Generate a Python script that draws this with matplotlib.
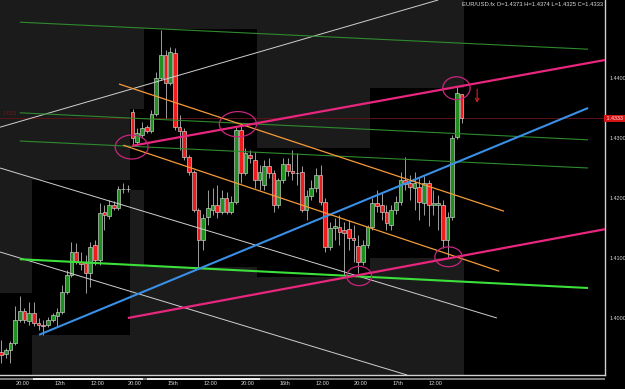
import numpy as np
import matplotlib
matplotlib.use('Agg')
import matplotlib.pyplot as plt
from matplotlib.patches import Rectangle, Ellipse

plt.rcParams['font.family'] = ['Liberation Sans', 'DejaVu Sans']

# --- DATA: EUR/USD candles (bar index = position) ---
opens = [1.3943, 1.3940, 1.3947, 1.3958, 1.3997, 1.4012, 1.3995, 1.4008, 1.3992, 1.3989,
         1.3988, 1.3997, 1.4003, 1.4010, 1.4043, 1.4072, 1.4110, 1.4093, 1.4092, 1.4075,
         1.4122, 1.4097, 1.4177, 1.4170, 1.4188, 1.4183, 1.4215, 1.4215, 1.4343, 1.4293,
         1.4305, 1.4318, 1.4312, 1.4340, 1.4400, 1.4438, 1.4392, 1.4442, 1.4318, 1.4312,
         1.4268, 1.4243, 1.4180, 1.4130, 1.4168, 1.4180, 1.4188, 1.4177, 1.4200, 1.4177,
         1.4193, 1.4313, 1.4242, 1.4272, 1.4263, 1.4230, 1.4222, 1.4253, 1.4242, 1.4188,
         1.4230, 1.4257, 1.4245, 1.4242, 1.4243, 1.4180, 1.4203, 1.4217, 1.4238, 1.4193,
         1.4118, 1.4150, 1.4152, 1.4147, 1.4148, 1.4133, 1.4120, 1.4093, 1.4122, 1.4152,
         1.4192, 1.4188, 1.4177, 1.4155, 1.4180, 1.4193, 1.4230, 1.4225, 1.4217, 1.4218,
         1.4192, 1.4225, 1.4188, 1.4188, 1.4188, 1.4130, 1.4168, 1.4302, 1.4373]
highs = [1.3963, 1.3950, 1.3962, 1.4020, 1.4037, 1.4017, 1.4027, 1.4027, 1.4000, 1.3997,
         1.4002, 1.4008, 1.4017, 1.4055, 1.4080, 1.4127, 1.4125, 1.4110, 1.4105, 1.4127,
         1.4130, 1.4192, 1.4188, 1.4197, 1.4195, 1.4220, 1.4225, 1.4222, 1.4348, 1.4317,
         1.4327, 1.4322, 1.4347, 1.4410, 1.4480, 1.4447, 1.4452, 1.4450, 1.4338, 1.4317,
         1.4272, 1.4247, 1.4183, 1.4173, 1.4213, 1.4217, 1.4222, 1.4213, 1.4210, 1.4203,
         1.4318, 1.4323, 1.4283, 1.4280, 1.4277, 1.4255, 1.4263, 1.4267, 1.4247, 1.4233,
         1.4267, 1.4267, 1.4280, 1.4275, 1.4253, 1.4213, 1.4230, 1.4250, 1.4255, 1.4200,
         1.4160, 1.4167, 1.4172, 1.4160, 1.4163, 1.4155, 1.4138, 1.4130, 1.4155, 1.4200,
         1.4213, 1.4208, 1.4188, 1.4188, 1.4203, 1.4243, 1.4268, 1.4238, 1.4243, 1.4233,
         1.4237, 1.4230, 1.4213, 1.4205, 1.4197, 1.4177, 1.4305, 1.4387, 1.4374]
lows = [1.3925, 1.3933, 1.3925, 1.3955, 1.3993, 1.3992, 1.3988, 1.3987, 1.3980, 1.3972,
        1.3985, 1.3993, 1.3985, 1.4007, 1.4040, 1.4068, 1.4090, 1.4080, 1.4042, 1.4052,
        1.4088, 1.4088, 1.4147, 1.4165, 1.4180, 1.4180, 1.4208, 1.4210, 1.4288, 1.4287,
        1.4302, 1.4308, 1.4308, 1.4337, 1.4397, 1.4333, 1.4388, 1.4313, 1.4280, 1.4263,
        1.4238, 1.4177, 1.4083, 1.4113, 1.4155, 1.4172, 1.4167, 1.4173, 1.4173, 1.4173,
        1.4190, 1.4225, 1.4238, 1.4258, 1.4217, 1.4213, 1.4213, 1.4233, 1.4177, 1.4183,
        1.4225, 1.4237, 1.4230, 1.4222, 1.4177, 1.4163, 1.4197, 1.4210, 1.4188, 1.4110,
        1.4113, 1.4130, 1.4122, 1.4072, 1.4113, 1.4093, 1.4075, 1.4088, 1.4117, 1.4147,
        1.4177, 1.4163, 1.4147, 1.4147, 1.4173, 1.4188, 1.4213, 1.4197, 1.4180, 1.4163,
        1.4172, 1.4153, 1.4172, 1.4147, 1.4117, 1.4102, 1.4163, 1.4298, 1.4325]
closes = [1.3938, 1.3947, 1.3958, 1.3997, 1.4012, 1.3997, 1.4008, 1.3992, 1.3988, 1.3987,
          1.3997, 1.4005, 1.4010, 1.4043, 1.4072, 1.4110, 1.4093, 1.4090, 1.4075, 1.4118,
          1.4097, 1.4175, 1.4172, 1.4188, 1.4183, 1.4215, 1.4215, 1.4215, 1.4300, 1.4308,
          1.4317, 1.4312, 1.4340, 1.4400, 1.4438, 1.4392, 1.4443, 1.4318, 1.4312, 1.4268,
          1.4243, 1.4180, 1.4130, 1.4167, 1.4183, 1.4188, 1.4177, 1.4200, 1.4177, 1.4193,
          1.4313, 1.4242, 1.4275, 1.4267, 1.4230, 1.4243, 1.4253, 1.4242, 1.4188, 1.4230,
          1.4257, 1.4245, 1.4242, 1.4242, 1.4180, 1.4203, 1.4217, 1.4238, 1.4193, 1.4118,
          1.4150, 1.4153, 1.4143, 1.4142, 1.4133, 1.4130, 1.4093, 1.4122, 1.4152, 1.4192,
          1.4187, 1.4177, 1.4158, 1.4180, 1.4193, 1.4230, 1.4223, 1.4218, 1.4225, 1.4193,
          1.4225, 1.4188, 1.4192, 1.4192, 1.4130, 1.4168, 1.4300, 1.4375, 1.4333]

time_ticks = [4.5, 12.5, 20.5, 28.5, 36.5, 44.5, 52.5, 60.5, 68.5, 76.5, 84.5, 92.5]
time_labels = ['20:00', '12th', '12:00', '20:00', '15th', '12:00', '20:00', '16th',
               '12:00', '20:00', '17th', '12:00']
price_ticks = [1.40, 1.41, 1.42, 1.43, 1.44]
last_price = 1.4333

# session boxes: bar start, bar end, price low, price high
box_x0 = [-0.5, 6.5, 27.5, 30.5, 54.5, 78.5, 98.5]
box_x1 = [6.5, 27.5, 30.5, 54.5, 78.5, 98.5, 130]
box_lo = [1.3900, 1.3972, 1.4213, 1.4085, 1.4068, 1.4100, 1.3900]
box_hi = [1.4042, 1.4230, 1.4348, 1.4482, 1.4283, 1.4383, 1.4600]

# trendlines: (bar0, price0, bar1, price1), colour, width
trendlines = [
    ((-0.2, 1.4318, 93.0, 1.4530), '#d0d0d0', 0.7),
    ((-0.2, 1.4250, 105.5, 1.4000), '#d0d0d0', 0.7),
    ((-0.2, 1.4110, 86.4, 1.3905), '#d0d0d0', 0.7),
    ((4.0, 1.4493, 124.9, 1.4448), '#2f8a2f', 0.8),
    ((4.0, 1.4342, 124.9, 1.4297), '#2f8a2f', 0.8),
    ((4.0, 1.4295, 124.9, 1.4250), '#2f8a2f', 0.8),
    ((4.0, 1.4098, 124.9, 1.4050), '#3be03b', 1.5),
    ((8.1, 1.3972, 124.9, 1.4350), '#3a8fe6', 1.5),
    ((25.1, 1.4390, 107.0, 1.4178), '#f59a3a', 0.9),
    ((26.0, 1.4288, 106.0, 1.4078), '#f59a3a', 0.9),
    ((27.9, 1.4287, 128.5, 1.4430), '#e8267e', 1.6),
    ((27.0, 1.4000, 128.5, 1.4148), '#e8267e', 1.6),
]

# highlight ellipses: centre bar, centre price, width (bars), height (price)
ell_x = [27.8, 50.4, 96.9, 76.2, 95.2]
ell_y = [1.4285, 1.4323, 1.4383, 1.4070, 1.4102]
ell_w = [7.0, 7.9, 5.8, 5.3, 5.8]
ell_h = [0.0040, 0.0042, 0.0038, 0.0032, 0.0033]

# --- FIGURE ---
fig = plt.figure(figsize=(6.25, 3.89), dpi=100, facecolor='black')
ax = fig.add_axes([0, 14 / 389, 605 / 625, 375 / 389])
ax.set_facecolor('#1b1b1b')
ax.set_xlim(-0.21, 128.5)
ax.set_ylim(1.3905, 1.4530)

for x0, x1, lo, hi in zip(box_x0, box_x1, box_lo, box_hi):
    ax.add_patch(Rectangle((x0, lo), x1 - x0, hi - lo, facecolor='black',
                           edgecolor='none', zorder=0))

# current price line
ax.axhline(last_price, color='#5a1414', lw=0.7, zorder=1)
ax.text(0.3, last_price + 0.0004, '1.4333', color='#6a1a1a', fontsize=3.3,
        va='bottom', ha='left', zorder=1)

# candles
o = np.array(opens)
h = np.array(highs)
l = np.array(lows)
c = np.array(closes)
x = np.arange(len(o))
body_col = np.where(c > o, '#1f8f1f', np.where(c < o, '#ee1c1c', '#e0e0e0'))
ax.vlines(x, l, h, color='#b8b8b8', lw=0.6, zorder=2)
ax.bar(x, c - o, bottom=o, width=0.78, color=body_col, edgecolor='#d8d8d8',
       linewidth=0.45, zorder=3)

# trendlines
for (a0, p0, a1, p1), col, lw in trendlines:
    ax.plot([a0, a1], [p0, p1], color=col, lw=lw, zorder=4, solid_capstyle='butt')

for ex, ey, ew, eh in zip(ell_x, ell_y, ell_w, ell_h):
    ax.add_patch(Ellipse((ex, ey), ew, eh, fill=False, edgecolor='#c8267e',
                         lw=0.9, zorder=5))

# red down arrow
ax.annotate('', xy=(101.3, 1.4354), xytext=(101.3, 1.4386),
            arrowprops=dict(arrowstyle='->', color='#d42222', lw=0.8,
                            mutation_scale=6), zorder=6)

# --- AXES ---
for side in ['top', 'left']:
    ax.spines[side].set_visible(False)
for side in ['right', 'bottom']:
    ax.spines[side].set_color('#d0d0d0')
    ax.spines[side].set_linewidth(1.0)

ax.yaxis.tick_right()
ax.set_yticks(price_ticks)
ax.set_yticklabels(['%.4f' % p for p in price_ticks])
ax.tick_params(axis='y', length=0, pad=3, labelsize=3.9, labelcolor='#d8d8d8')
ax.set_xticks(time_ticks)
ax.set_xticklabels(time_labels)
ax.tick_params(axis='x', length=0, pad=4.2, labelsize=4, labelcolor='#d8d8d8')

ax.text(1.0, last_price, ' 1.4333 ', transform=ax.get_yaxis_transform(),
        fontsize=3.9, color='#ffdede', va='center', ha='left',
        bbox=dict(boxstyle='square,pad=0.15', facecolor='#d41414', edgecolor='none'))

# time-axis band under the chart
fig.add_artist(Rectangle((0, 9 / 389), 605 / 625, 2.2 / 389, facecolor='#7a7a7a',
                         edgecolor='none', transform=fig.transFigure))
for bx0, bx1 in [(33, 143), (147, 260)]:
    fig.add_artist(Rectangle((bx0 / 625, 9 / 389), (bx1 - bx0) / 625, 2.2 / 389,
                             facecolor='#e8e8e8', edgecolor='none',
                             transform=fig.transFigure))

fig.text(603 / 625, 1 - 5 / 389, 'EUR/USD.fx O=1.4373 H=1.4374 L=1.4325 C=1.4333',
         fontsize=4.2, color='#dcdcdc', ha='right', va='center')

fig.savefig('out.png', dpi=100, facecolor='black')
